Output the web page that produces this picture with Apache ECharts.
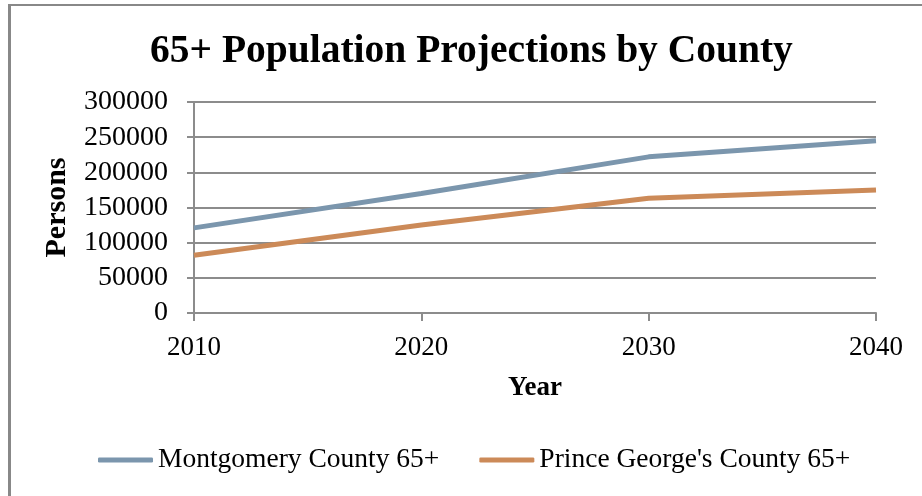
<!DOCTYPE html>
<html>
<head>
<meta charset="utf-8">
<script src="https://cdn.jsdelivr.net/npm/echarts@6/dist/echarts.min.js"></script>
<style>
  html, body { margin: 0; padding: 0; background: #fff; }
  #chart { width: 922px; height: 496px; }
</style>
</head>
<body>
<div id="chart"></div>
<script>
// Projected population aged 65 and over, by county
const years = ['2010', '2020', '2030', '2040'];
const montgomery = [121000, 170000, 222000, 245000];
const princeGeorges = [82000, 125000, 163000, 175000];
const seriesNames = ['Montgomery County 65+', "Prince George's County 65+"];

const serif = '"Liberation Serif", "DejaVu Serif", serif';
const gridColor = '#8c8c8c';

const chart = echarts.init(document.getElementById('chart'), null, { renderer: 'canvas' });

chart.setOption({
  backgroundColor: '#fff',
  animation: false,
  title: {
    text: '65+ Population Projections by County',
    left: 145,
    top: 27,
    textStyle: { fontFamily: serif, fontWeight: 'bold', fontSize: 39.5, color: '#000' }
  },
  legend: {
    bottom: 17,
    left: 93,
    itemWidth: 55,
    itemHeight: 5,
    itemGap: 40,
    icon: 'roundRect',
    textStyle: { fontFamily: serif, fontSize: 27.5, color: '#000', padding: [0, 0, 0, 0] },
    data: seriesNames
  },
  grid: { left: 194, right: 46, top: 102, bottom: 183, containLabel: false },
  xAxis: {
    type: 'category',
    data: years,
    boundaryGap: false,
    name: 'Year',
    nameLocation: 'middle',
    nameGap: 62,
    nameTextStyle: { fontFamily: serif, fontWeight: 'bold', fontSize: 27, color: '#000' },
    axisLine: { lineStyle: { color: gridColor, width: 2 } },
    axisTick: { show: true, length: 8, lineStyle: { color: gridColor, width: 2 } },
    axisLabel: { fontFamily: serif, fontSize: 27, color: '#000', margin: 21 }
  },
  yAxis: {
    type: 'value',
    min: 0,
    max: 300000,
    interval: 50000,
    name: 'Persons',
    nameLocation: 'middle',
    nameGap: 122,
    nameTextStyle: { fontFamily: serif, fontWeight: 'bold', fontSize: 30, color: '#000' },
    axisLine: { show: true, lineStyle: { color: gridColor, width: 2 } },
    axisTick: { show: true, length: 7, lineStyle: { color: gridColor, width: 2 } },
    axisLabel: { fontFamily: serif, fontSize: 28, color: '#000', margin: 26, formatter: (v) => String(v) },
    splitLine: { show: true, lineStyle: { color: gridColor, width: 2 } }
  },
  series: [
    {
      name: seriesNames[0],
      type: 'line',
      data: montgomery,
      showSymbol: false,
      symbol: 'none',
      lineStyle: { color: '#7b96ad', width: 5 },
      itemStyle: { color: '#7b96ad' }
    },
    {
      name: seriesNames[1],
      type: 'line',
      data: princeGeorges,
      showSymbol: false,
      symbol: 'none',
      lineStyle: { color: '#cc8a58', width: 5 },
      itemStyle: { color: '#cc8a58' }
    }
  ],
  graphic: [
    { type: 'line', shape: { x1: 8, y1: 5, x2: 922, y2: 5 }, style: { stroke: '#888', lineWidth: 2 } },
    { type: 'line', shape: { x1: 9.5, y1: 4, x2: 9.5, y2: 496 }, style: { stroke: '#888', lineWidth: 3 } }
  ]
});
</script>
</body>
</html>
